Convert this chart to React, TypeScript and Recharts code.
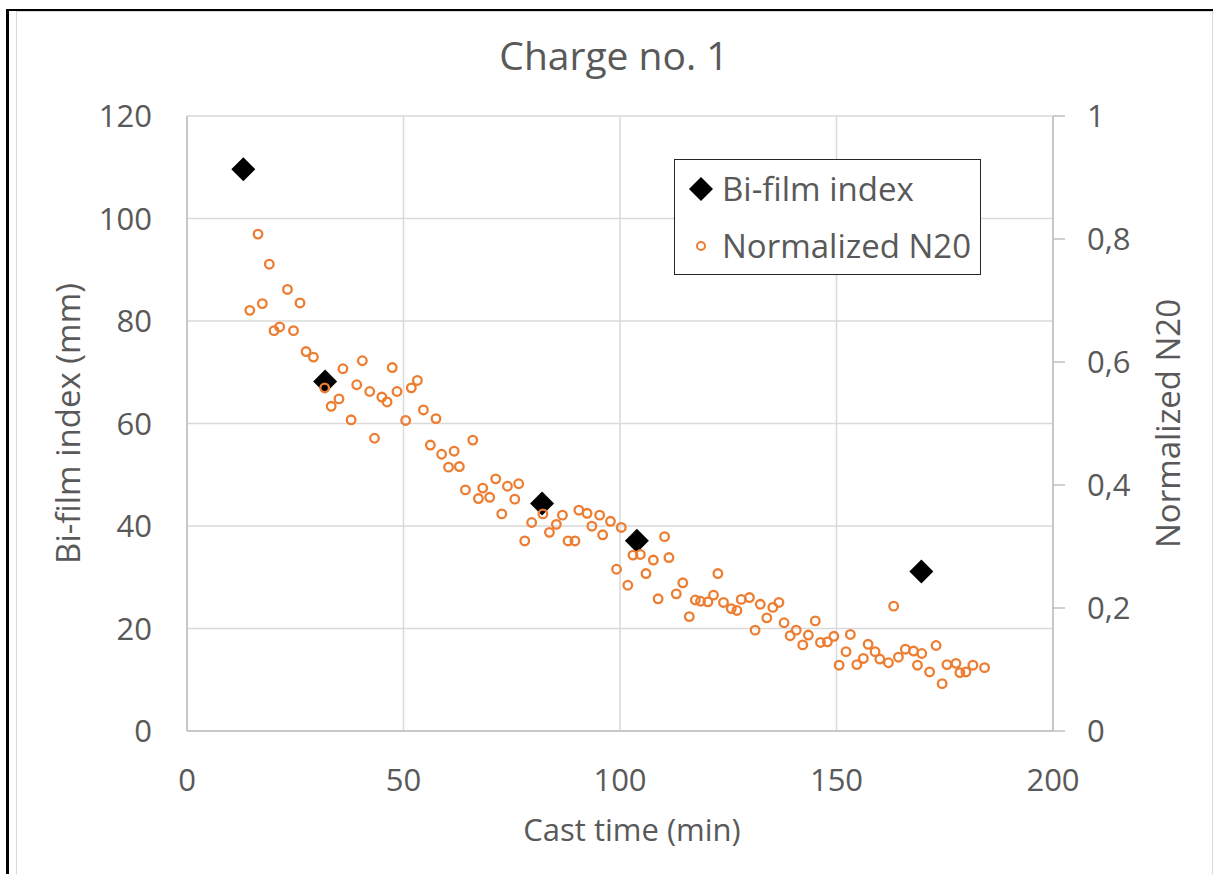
import React from 'react';
import { ScatterChart, Scatter, XAxis, YAxis, CartesianGrid } from 'recharts';

const FONT = '"Open Sans", sans-serif';
const TEXT = '#595959';
const ORANGE = '#ED7D31';

const chartTitle = 'Charge no. 1';
const xTitle = 'Cast time (min)';
const leftTitle = 'Bi-film index (mm)';
const rightTitle = 'Normalized N20';
const seriesNames = ['Bi-film index', 'Normalized N20'];

const xTicks = [0, 50, 100, 150, 200];
const leftTicks = [0, 20, 40, 60, 80, 100, 120];
const rightTicks = [0, 0.2, 0.4, 0.6, 0.8, 1];

const bifilmTime = [13.0, 31.9, 82.0, 103.9, 169.6];
const bifilmIndex = [109.6, 68.2, 44.4, 37.1, 31.1];

const n20Time = [
  14.5, 16.4, 17.4, 19.0, 20.1, 21.4, 23.2, 24.6, 26.1, 27.5, 29.2, 31.8, 33.3, 35.1, 36.0, 37.9,
  39.2, 40.5, 42.2, 43.3, 45.0, 46.2, 47.4, 48.5, 50.5, 51.8, 53.2, 54.6, 56.2, 57.5, 58.8, 60.4,
  61.7, 62.9, 64.3, 66.0, 67.3, 68.3, 69.9, 71.3, 72.7, 74.0, 75.7, 76.6, 78.0, 79.6, 82.2, 83.7,
  85.3, 86.7, 88.0, 89.6, 90.5, 92.4, 93.5, 95.3, 96.0, 97.8, 99.2, 100.3, 101.8, 103.0, 104.7,
  106.0, 107.7, 108.8, 110.3, 111.3, 113.0, 114.5, 116.0, 117.4, 118.6, 120.3, 121.6, 122.6,
  123.9, 125.7, 127.0, 128.0, 129.9, 131.2, 132.4, 133.9, 135.3, 136.7, 137.9, 139.3, 140.7,
  142.2, 143.5, 145.1, 146.3, 147.9, 149.4, 150.6, 152.2, 153.2, 154.7, 156.2, 157.3, 158.9,
  160.0, 162.0, 163.2, 164.3, 165.9, 167.8, 168.7, 169.7, 171.5, 173.0, 174.4, 175.5, 177.6,
  178.5, 179.9, 181.5, 184.2,
];
const n20Value = [
  0.684, 0.808, 0.695, 0.759, 0.651, 0.657, 0.718, 0.651, 0.696, 0.617, 0.608, 0.558, 0.528, 0.540, 0.589, 0.506,
  0.563, 0.602, 0.552, 0.476, 0.543, 0.535, 0.591, 0.552, 0.505, 0.558, 0.570, 0.522, 0.465, 0.508, 0.450, 0.429,
  0.455, 0.430, 0.392, 0.473, 0.378, 0.395, 0.380, 0.410, 0.353, 0.398, 0.377, 0.402, 0.309, 0.339, 0.353, 0.323,
  0.336, 0.351, 0.309, 0.309, 0.359, 0.354, 0.333, 0.351, 0.319, 0.341, 0.263, 0.331, 0.237, 0.286, 0.287,
  0.256, 0.278, 0.215, 0.316, 0.282, 0.223, 0.241, 0.186, 0.213, 0.211, 0.210, 0.221, 0.256,
  0.209, 0.199, 0.196, 0.214, 0.217, 0.164, 0.206, 0.184, 0.201, 0.209, 0.176, 0.155, 0.164,
  0.140, 0.156, 0.179, 0.144, 0.145, 0.154, 0.107, 0.129, 0.157, 0.108, 0.118, 0.141, 0.129,
  0.117, 0.111, 0.203, 0.120, 0.133, 0.130, 0.107, 0.126, 0.096, 0.139, 0.077, 0.108, 0.110,
  0.095, 0.096, 0.107, 0.103,
];

const bifilmData = bifilmTime.map((x, i) => ({ x, y: bifilmIndex[i] }));
const n20Data = n20Time.map((x, i) => ({ x, y: n20Value[i] }));

const fmtRight = (v: number) => (v === 0 ? '0' : v === 1 ? '1' : v.toFixed(1).replace('.', ','));

const DiamondShape = (props: any) => {
  const { cx, cy } = props;
  if (cx == null || cy == null) return null;
  const r = 12;
  return <path d={`M${cx},${cy - r}L${cx + r},${cy}L${cx},${cy + r}L${cx - r},${cy}Z`} fill="#000" />;
};

const CircleShape = (props: any) => {
  const { cx, cy } = props;
  if (cx == null || cy == null) return null;
  return <circle cx={cx} cy={cy} r={4.3} fill="none" stroke={ORANGE} strokeWidth={2.3} />;
};

const tickStyle = { fill: TEXT, fontSize: 31, fontFamily: FONT };
const labelStyle = { fill: TEXT, fontSize: 33, fontFamily: FONT };

export default function App() {
  return (
    <div style={{ position: 'absolute', left: 0, top: 0, width: 1213, height: 874, background: '#fff', overflow: 'hidden', fontFamily: FONT }}>
      <div style={{ position: 'absolute', left: 6, top: 9, width: 1300, height: 1000, borderLeft: '3px solid #000', borderTop: '2px solid #000' }} />
      <div style={{ position: 'absolute', left: 16, top: 11, width: 1195, height: 1000, border: '1px solid #d9d9d9' }} />
      <div style={{ position: 'absolute', left: 0, top: 0 }}>
        <ScatterChart width={1213} height={874} margin={{ top: 116, right: 0, bottom: 0, left: 0 }}>
          <CartesianGrid yAxisId="left" stroke="#d9d9d9" strokeWidth={1.5} />
          <XAxis
            dataKey="x"
            type="number"
            domain={[0, 200]}
            ticks={xTicks}
            interval={0}
            height={143}
            tickLine={false}
            tickSize={0}
            tickMargin={38}
            axisLine={{ stroke: '#bfbfbf', strokeWidth: 1.5 }}
            tick={tickStyle}
            label={{ value: xTitle, position: 'center', dx: 12, dy: 27, style: { ...labelStyle, fontSize: 31 } }}
          />
          <YAxis
            yAxisId="left"
            dataKey="y"
            type="number"
            orientation="left"
            width={187}
            domain={[0, 120]}
            ticks={leftTicks}
            interval={0}
            tickLine={false}
            tickSize={0}
            tickMargin={35}
            axisLine={{ stroke: '#bfbfbf', strokeWidth: 1.5 }}
            tick={tickStyle}
            label={{ value: leftTitle, position: 'center', angle: -90, dx: -25, style: labelStyle }}
          />
          <YAxis
            yAxisId="right"
            dataKey="y"
            type="number"
            orientation="right"
            width={160}
            domain={[0, 1]}
            ticks={rightTicks}
            interval={0}
            tickFormatter={fmtRight}
            tickLine={{ stroke: '#bfbfbf', strokeWidth: 1.5 }}
            tickSize={12}
            tickMargin={22}
            axisLine={{ stroke: '#bfbfbf', strokeWidth: 1.5 }}
            tick={{ ...tickStyle, textAnchor: 'start' }}
            label={{ value: rightTitle, position: 'center', angle: -90, dx: 35, style: labelStyle }}
          />
          <Scatter name={seriesNames[0]} data={bifilmData} yAxisId="left" shape={DiamondShape} isAnimationActive={false} />
          <Scatter name={seriesNames[1]} data={n20Data} yAxisId="right" shape={CircleShape} isAnimationActive={false} />
        </ScatterChart>
      </div>
      <div style={{ position: 'absolute', left: 0, width: 1228, top: 32, textAlign: 'center', fontSize: 39, color: TEXT, lineHeight: '46px' }}>
        {chartTitle}
      </div>
      <div style={{ position: 'absolute', left: 674, top: 159, width: 307, height: 116, border: '1.5px solid #262626', background: '#fff', boxSizing: 'border-box' }}>
        <svg width={40} height={116} style={{ position: 'absolute', left: 0, top: 0 }}>
          <path d="M26,17L38,29L26,41L14,29Z" fill="#000" />
          <circle cx={26} cy={86} r={4} fill="none" stroke={ORANGE} strokeWidth={2} />
        </svg>
        <div style={{ position: 'absolute', left: 47, top: 9, fontSize: 33, color: TEXT, lineHeight: '40px', whiteSpace: 'nowrap' }}>{seriesNames[0]}</div>
        <div style={{ position: 'absolute', left: 47, top: 66, fontSize: 33, color: TEXT, lineHeight: '40px', whiteSpace: 'nowrap' }}>{seriesNames[1]}</div>
      </div>
    </div>
  );
}
